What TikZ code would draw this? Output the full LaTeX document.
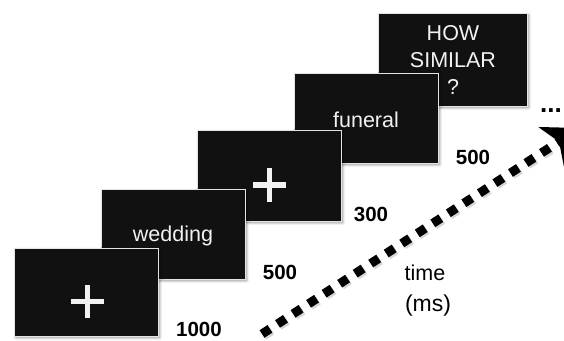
\documentclass[tikz,border=0pt]{standalone}
\usepackage{fontspec}
\setmainfont{Liberation Sans}
\usetikzlibrary{arrows.meta,shadows.blur}
\definecolor{screen}{HTML}{111111}
\definecolor{rim}{HTML}{E4E4E4}
\definecolor{ink}{HTML}{F2F2F2}
\begin{document}
\begin{tikzpicture}[x=1pt,y=-1pt,
  screenbox/.style={draw=rim, line width=1.4pt, fill=screen, inner sep=0pt,
    anchor=north west,
    blur shadow={shadow xshift=1.2pt, shadow yshift=-1.2pt,
      shadow blur radius=2.5pt, shadow opacity=40}},
  word/.style={text=ink, font=\fontsize{21.5}{27}\selectfont, inner sep=0pt},
  crossbar/.style={draw=ink, line width=5.5pt},
  duration/.style={font=\bfseries\fontsize{20.5}{24}\selectfont, inner sep=0pt},
  axislabel/.style={font=\fontsize{21.5}{30}\selectfont, inner sep=0pt},
  timeline/.style={line width=9pt, dash pattern=on 9.5pt off 9pt,
    -{Stealth[length=34pt, width=46pt, inset=9pt]}}]
\useasboundingbox (0,0) rectangle (564,340);

% screens, back to front
\node[screenbox, minimum width=149pt, minimum height=93pt] (s5) at (378,13) {};
\node[screenbox, minimum width=144pt, minimum height=90pt] (s4) at (294,73) {};
\node[screenbox, minimum width=144pt, minimum height=91pt] (s3) at (197,130) {};
\node[screenbox, minimum width=144pt, minimum height=90pt] (s2) at (101,189) {};
\node[screenbox, minimum width=144pt, minimum height=88pt] (s1) at (14,248) {};

% screen contents
\node[word, align=center] (q) at (453,60) {HOW\\SIMILAR\\?};
\node[word] (w2) at (366,120) {funeral};
\node[word] (w1) at (173,236) {wedding};

\coordinate (f2) at (269.5,185);
\draw[crossbar] ([xshift=-16.5pt]f2) -- ([xshift=16.5pt]f2);
\draw[crossbar] ([yshift=-17pt]f2) -- ([yshift=17pt]f2);
\coordinate (f1) at (87.5,301.5);
\draw[crossbar] ([xshift=-16.5pt]f1) -- ([xshift=16.5pt]f1);
\draw[crossbar] ([yshift=-16.5pt]f1) -- ([yshift=16.5pt]f1);

% durations
\node[duration] (d1) at (199,329) {1000};
\node[duration] (d2) at (280,272) {500};
\node[duration] (d3) at (371,214) {300};
\node[duration] (d4) at (473,157) {500};

% time axis
\node[axislabel] (tl) at (425,273) {time};
\node[axislabel, font=\fontsize{23}{30}\selectfont] (tu) at (428,306) {(ms)};

\coordinate (t0) at (262,334);
\coordinate (t1) at (580,128);
\draw[timeline, draw=black!45, fill=black!45, opacity=.35,
  transform canvas={shift={(1.8pt,-1.8pt)}}] (t0) -- (t1);
\draw[timeline] (t0) -- (t1);

\node[font=\bfseries\fontsize{26}{26}\selectfont, inner sep=0pt, anchor=base west]
  (more) at (540,112.5) {...};
\end{tikzpicture}
\end{document}
